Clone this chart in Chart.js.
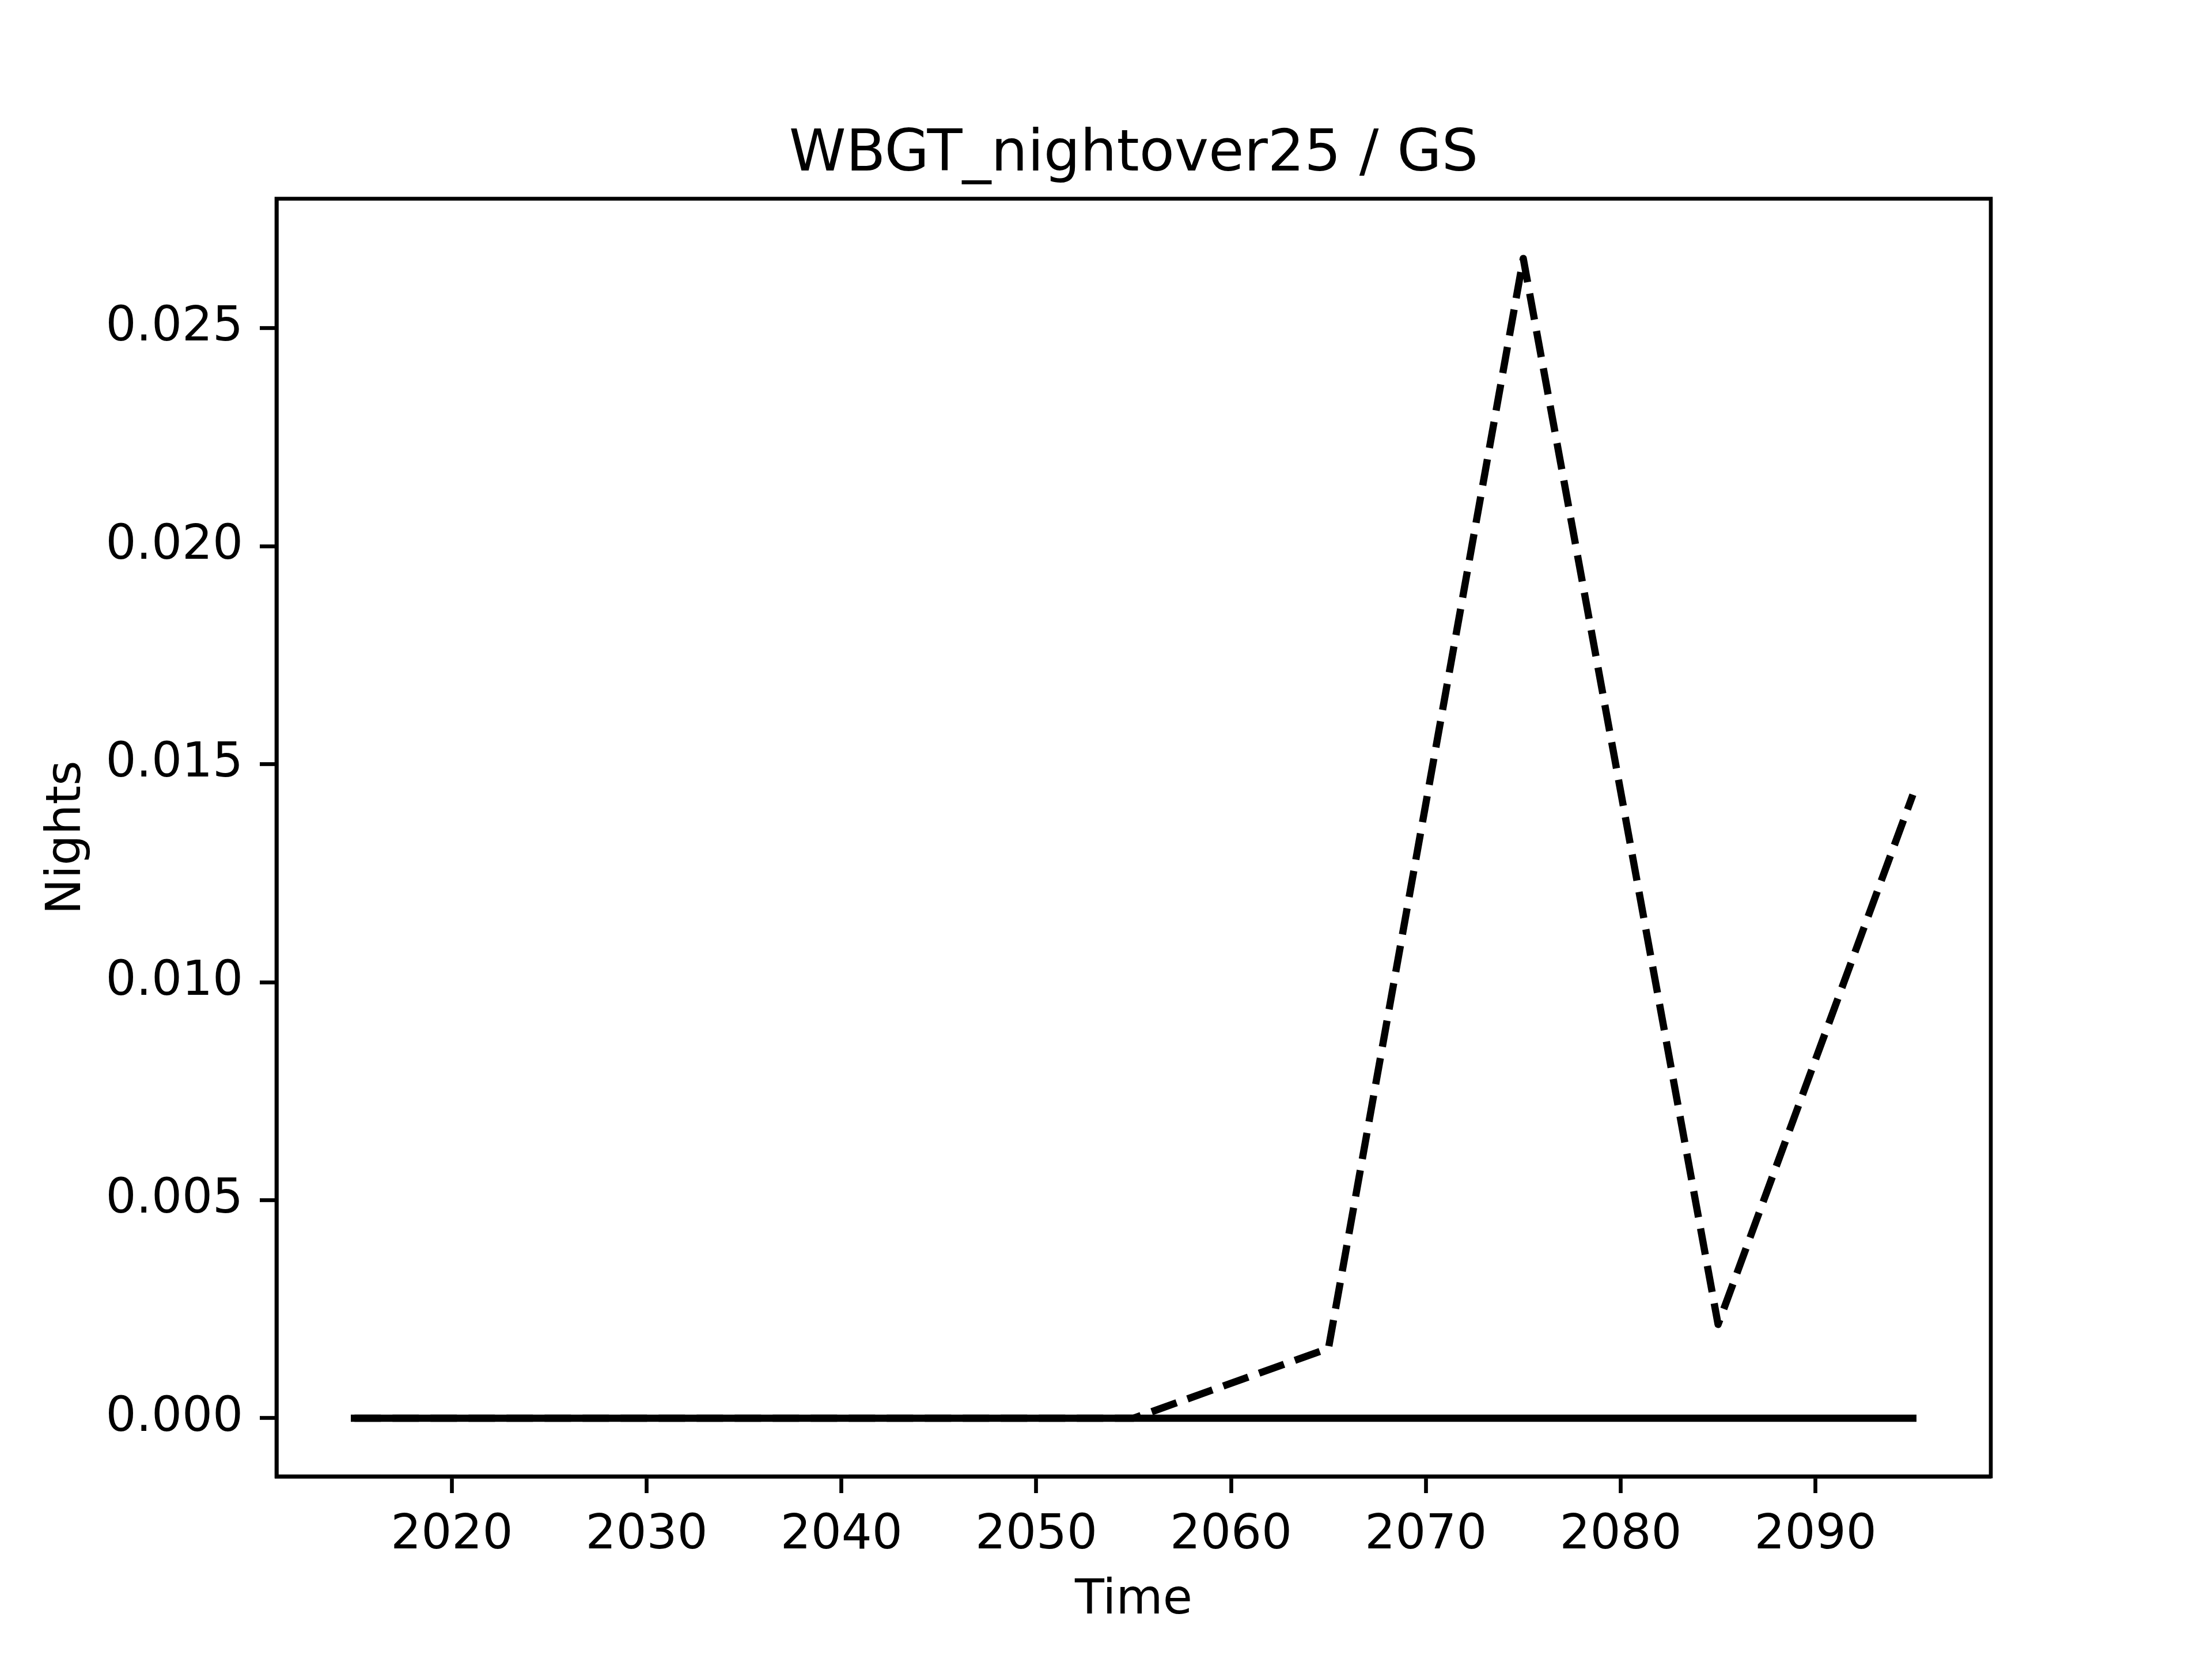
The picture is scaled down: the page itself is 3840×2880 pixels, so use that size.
<!DOCTYPE html>
<html>
<head>
<meta charset="utf-8">
<script src="https://cdn.jsdelivr.net/npm/chart.js@4.4.1/dist/chart.umd.min.js"></script>
<style>
  html, body { margin: 0; padding: 0; background: #ffffff; }
  canvas { display: block; }
</style>
</head>
<body>
<canvas id="c" width="3840" height="2880" style="width:3840px;height:2880px"></canvas>
<script>
const years = [2015, 2025, 2035, 2045, 2055, 2065, 2075, 2085, 2095];
const seriesDashed = [0, 0, 0, 0, 0, 0.0016, 0.0266, 0.00215, 0.0143];
const seriesSolid = [0, 0, 0, 0, 0, 0, 0, 0, 0];
const xTicks = [2020, 2030, 2040, 2050, 2060, 2070, 2080, 2090];
const yTicks = [0, 0.005, 0.010, 0.015, 0.020, 0.025];
const titleText = 'WBGT_nightover25 / GS';
const xLabel = 'Time';
const yLabel = 'Nights';

const FONT = 'DejaVu Sans';
const tickFont = { family: FONT, size: 83.33 };
const LW_AX = 6.67;

const boxAndTitle = {
  id: 'boxAndTitle',
  afterDraw(chart) {
    const { ctx, chartArea: a } = chart;
    ctx.save();
    ctx.strokeStyle = '#000';
    ctx.lineWidth = LW_AX;
    ctx.lineJoin = 'miter';
    ctx.strokeRect(a.left, a.top, a.right - a.left, a.bottom - a.top);
    ctx.fillStyle = '#000';
    ctx.font = '100px "' + FONT + '"';
    ctx.textAlign = 'center';
    ctx.textBaseline = 'alphabetic';
    ctx.fillText(titleText, (a.left + a.right) / 2, a.top - 49);
    ctx.restore();
  }
};

const toXY = (arr) => years.map((y, i) => ({ x: y, y: arr[i] }));

new Chart(document.getElementById('c'), {
  type: 'line',
  data: {
    datasets: [
      {
        data: toXY(seriesSolid),
        borderColor: '#000',
        borderWidth: 12.5,
        borderCapStyle: 'square',
        borderJoinStyle: 'round',
        pointRadius: 0,
        tension: 0,
        fill: false,
        order: 0
      },
      {
        data: toXY(seriesDashed),
        borderColor: '#000',
        borderWidth: 12.5,
        borderDash: [46, 20],
        borderCapStyle: 'butt',
        borderJoinStyle: 'round',
        pointRadius: 0,
        tension: 0,
        fill: false,
        order: 1
      }
    ]
  },
  options: {
    responsive: false,
    animation: false,
    devicePixelRatio: 1,
    layout: { padding: { left: 0, top: 345, right: 384, bottom: 0 } },
    plugins: { legend: { display: false }, tooltip: { enabled: false }, title: { display: false } },
    scales: {
      x: {
        type: 'linear',
        min: 2011,
        max: 2099,
        afterBuildTicks: (s) => { s.ticks = xTicks.map(v => ({ value: v })); },
        afterFit: (s) => { s.height = 317; },
        grid: { drawOnChartArea: false, drawTicks: true, tickLength: 29, tickWidth: LW_AX, tickColor: '#000' },
        border: { display: true, color: '#000', width: LW_AX },
        ticks: { color: '#000', font: tickFont, padding: 24, maxRotation: 0, autoSkip: false, callback: (v) => String(v) },
        title: { display: true, text: xLabel, color: '#000', font: tickFont, padding: 51 }
      },
      y: {
        type: 'linear',
        min: -0.001335,
        max: 0.02797,
        afterBuildTicks: (s) => { s.ticks = yTicks.map(v => ({ value: v })); },
        afterFit: (s) => { s.width = 480; },
        grid: { drawOnChartArea: false, drawTicks: true, tickLength: 29, tickWidth: LW_AX, tickColor: '#000' },
        border: { display: true, color: '#000', width: LW_AX },
        ticks: { color: '#000', font: tickFont, padding: 29, autoSkip: false, callback: (v) => Number(v).toFixed(3) },
        title: { display: true, text: yLabel, color: '#000', font: tickFont, padding: 67 }
      }
    }
  },
  plugins: [boxAndTitle]
});
</script>
</body>
</html>
